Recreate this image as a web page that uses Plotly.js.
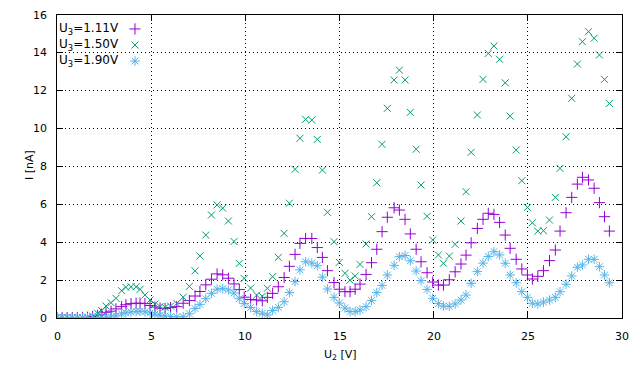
<!DOCTYPE html>
<html><head><meta charset="utf-8">
<script src="https://cdn.plot.ly/plotly-3.0.1.min.js"></script>
<style>html,body{margin:0;padding:0;background:#fff}#c{width:640px;height:384px}</style>
</head><body><div id="c"></div>
<script>
// U2 [V] (shared by all series)
const u2 = [0, 0.27, 0.54, 0.81, 1.08, 1.35, 1.62, 1.89, 2.16, 2.37,
  2.6, 2.87, 3.13, 3.43, 3.66, 3.93, 4.2, 4.41, 4.67, 4.94,
  5.2, 5.47, 5.74, 6.03, 6.36, 6.7, 7.03, 7.33, 7.59, 7.9,
  8.2, 8.5, 8.8, 9.1, 9.4, 9.68, 9.94, 10.28, 10.6, 10.9,
  11.17, 11.45, 11.75, 12.06, 12.34, 12.64, 12.9, 13.2, 13.53, 13.82,
  14.09, 14.36, 14.71, 14.99, 15.29, 15.56, 15.83, 16.09, 16.41, 16.7,
  16.98, 17.26, 17.54, 17.9, 18.18, 18.48, 18.76, 19.07, 19.33, 19.65,
  19.95, 20.25, 20.52, 20.83, 21.14, 21.45, 21.72, 21.99, 22.32, 22.62,
  22.9, 23.2, 23.5, 23.8, 24.06, 24.38, 24.68, 24.98, 25.24, 25.53,
  25.83, 26.15, 26.46, 26.71, 27.03, 27.33, 27.63, 27.9, 28.22, 28.52,
  28.8, 29.07, 29.33];

// I [nA] for U3 = 1.11 V
const i111 = [0.02, 0.02, 0.02, 0.02, 0.03, 0.03, 0.04, 0.08, 0.14, 0.2,
  0.3, 0.36, 0.48, 0.6, 0.7, 0.76, 0.78, 0.78, 0.76, 0.66,
  0.58, 0.52, 0.5, 0.55, 0.6, 0.78, 0.92, 1.16, 1.4, 1.75,
  2.05, 2.33, 2.28, 2.1, 1.8, 1.5, 1.1, 0.98, 0.95, 0.91,
  1.09, 1.3, 1.65, 2.14, 2.73, 3.36, 3.94, 4.2, 4.2, 3.72,
  3.2, 2.5, 1.87, 1.52, 1.39, 1.39, 1.52, 1.79, 2.3, 2.92,
  3.63, 4.56, 5.32, 5.82, 5.7, 5.21, 4.44, 3.63, 2.97, 2.39,
  1.9, 1.74, 1.74, 2.02, 2.44, 2.85, 3.32, 3.97, 4.73, 5.21,
  5.53, 5.47, 5.05, 4.38, 3.68, 3.1, 2.59, 2.27, 2.06, 2.2,
  2.5, 3.03, 3.59, 4.59, 5.56, 6.37, 7.07, 7.43, 7.29, 6.85,
  6.09, 5.35, 4.59];

// I [nA] for U3 = 1.50 V
const i150 = [0.02, 0.02, 0.02, 0.02, 0.03, 0.03, 0.05, 0.1, 0.25, 0.39,
  0.63, 0.81, 1.04, 1.44, 1.62, 1.65, 1.65, 1.51, 1.21, 0.95,
  0.74, 0.6, 0.56, 0.63, 0.77, 1.1, 1.67, 2.49, 3.28, 4.38,
  5.44, 5.97, 5.8, 5.12, 4.04, 2.88, 2.09, 1.58, 1.21, 1.15,
  1.57, 2.18, 3.2, 4.47, 6.06, 7.85, 9.49, 10.49, 10.45, 9.43,
  7.81, 5.58, 4.03, 2.94, 2.36, 2.0, 2.22, 2.83, 3.91, 5.35,
  7.14, 9.17, 11.07, 12.57, 13.09, 12.57, 10.86, 8.91, 7.02, 5.37,
  4.12, 3.33, 2.89, 3.27, 3.89, 5.12, 6.67, 8.75, 10.72, 12.6,
  13.97, 14.36, 13.66, 12.42, 10.66, 8.87, 7.25, 5.84, 5.03, 4.59,
  4.61, 5.17, 6.37, 7.9, 9.57, 11.6, 13.41, 14.59, 15.12, 14.77,
  13.89, 12.6, 11.33];

// I [nA] for U3 = 1.90 V
const i190 = [0.02, 0.01, 0.02, 0.01, 0.02, 0.02, 0.01, 0.02, 0.02, 0.03,
  0.03, 0.06, 0.12, 0.22, 0.28, 0.32, 0.35, 0.36, 0.33, 0.27,
  0.2, 0.14, 0.1, 0.07, 0.06, 0.07, 0.22, 0.5, 0.72, 1.02,
  1.3, 1.52, 1.55, 1.48, 1.32, 1.02, 0.76, 0.55, 0.34, 0.25,
  0.16, 0.4, 0.56, 0.86, 1.34, 1.92, 2.54, 2.97, 2.9, 2.76,
  2.16, 1.53, 1.09, 0.79, 0.53, 0.34, 0.34, 0.42, 0.6, 0.92,
  1.34, 1.72, 2.27, 2.78, 3.24, 3.3, 3.02, 2.48, 1.97, 1.51,
  1.04, 0.76, 0.63, 0.62, 0.74, 0.95, 1.21, 1.83, 2.45, 2.9,
  3.25, 3.5, 3.33, 2.89, 2.27, 1.86, 1.39, 1.09, 0.78, 0.74,
  0.84, 0.95, 1.09, 1.39, 1.78, 2.22, 2.68, 2.8, 3.1, 3.1,
  2.71, 2.27, 1.86];

const seriesNames = ['U<sub>3</sub>=1.11V', 'U<sub>3</sub>=1.50V', 'U<sub>3</sub>=1.90V'];
const xTicks = [0, 5, 10, 15, 20, 25, 30];
const yTicks = [0, 2, 4, 6, 8, 10, 12, 14, 16];
const xTitle = 'U<sub>2</sub> [V]';
const yTitle = 'I [nA]';

const colors = ['#9400D3', '#009E73', '#56B4E9'];
const symbols = ['cross-thin-open', 'x-thin-open', 'asterisk-open'];
const sizes = [8, 7, 8];
const ys = [i111, i150, i190];

const traces = ys.map((y, k) => ({
  x: u2, y: y, type: 'scatter', mode: 'markers', name: seriesNames[k], showlegend: false,
  marker: {symbol: symbols[k], size: sizes[k], color: colors[k], line: {color: colors[k], width: 1}}
}));

// legend key samples (on a hidden overlay axis spanning the plot area)
const keyX = 0.138, keyY = [0.954, 0.901, 0.848];
seriesNames.forEach((n, k) => {
  traces.push({x: [keyX], y: [keyY[k]], xaxis: 'x2', yaxis: 'y2', type: 'scatter', mode: 'markers',
    showlegend: false, hoverinfo: 'skip',
    marker: {symbol: symbols[k], size: sizes[k], color: colors[k], line: {color: colors[k], width: 1}}});
});

const font = {family: 'DejaVu Sans, sans-serif', size: 11, color: '#000'};
const annotations = seriesNames.map((n, k) => ({
  xref: 'paper', yref: 'paper', x: 0.0, y: keyY[k], xanchor: 'left', yanchor: 'middle',
  text: n, showarrow: false, font: {family: font.family, size: 12, color: '#000'}
}));
// tick labels placed like gnuplot's
xTicks.forEach(v => annotations.push({xref: 'x', yref: 'paper', x: v, y: 0, xanchor: 'center',
  yanchor: 'middle', yshift: -18, text: String(v), showarrow: false, font: font}));
yTicks.forEach(v => annotations.push({xref: 'paper', yref: 'y', x: 0, y: v, xanchor: 'right',
  yanchor: 'middle', xshift: -8, text: String(v), showarrow: false, font: font}));
annotations.push({xref: 'paper', yref: 'paper', x: 0.501, y: 0, yshift: -37, xanchor: 'center', yanchor: 'middle',
  text: xTitle, showarrow: false, font: font});
annotations.push({xref: 'paper', yref: 'paper', x: 0, xshift: -27, y: 0.505, xanchor: 'center', yanchor: 'middle',
  text: yTitle, textangle: -90, showarrow: false, font: font});

// opaque key box that hides the grid behind the legend
const shapes = [{type: 'rect', xref: 'paper', yref: 'paper', x0: 0, x1: 0.177, y0: 0.82, y1: 1,
  fillcolor: '#fff', line: {width: 0}, layer: 'between'}];

// frame, grid and inward ticks
const axisFrame = {
  showline: true, linecolor: '#000', linewidth: 1, mirror: 'ticks',
  ticks: 'inside', ticklen: 6, tickcolor: '#000', tickwidth: 1,
  showgrid: true, gridcolor: '#000', gridwidth: 1, griddash: '1px,3px',
  zeroline: false, showticklabels: false
};

const layout = {
  width: 640, height: 384,
  margin: {l: 57, r: 18, t: 15, b: 66},
  paper_bgcolor: '#fff', plot_bgcolor: '#fff',
  font: font,
  xaxis: Object.assign({}, axisFrame, {range: [0, 30], tickvals: xTicks}),
  yaxis: Object.assign({}, axisFrame, {range: [0, 16], tickvals: yTicks}),
  xaxis2: {overlaying: 'x', anchor: 'y2', range: [0, 1], visible: false, fixedrange: true},
  yaxis2: {overlaying: 'y', anchor: 'x2', range: [0, 1], visible: false, fixedrange: true},
  annotations: annotations,
  shapes: shapes,
  showlegend: false
};

Plotly.newPlot('c', traces, layout, {displayModeBar: false, staticPlot: true});
</script>
</body></html>
